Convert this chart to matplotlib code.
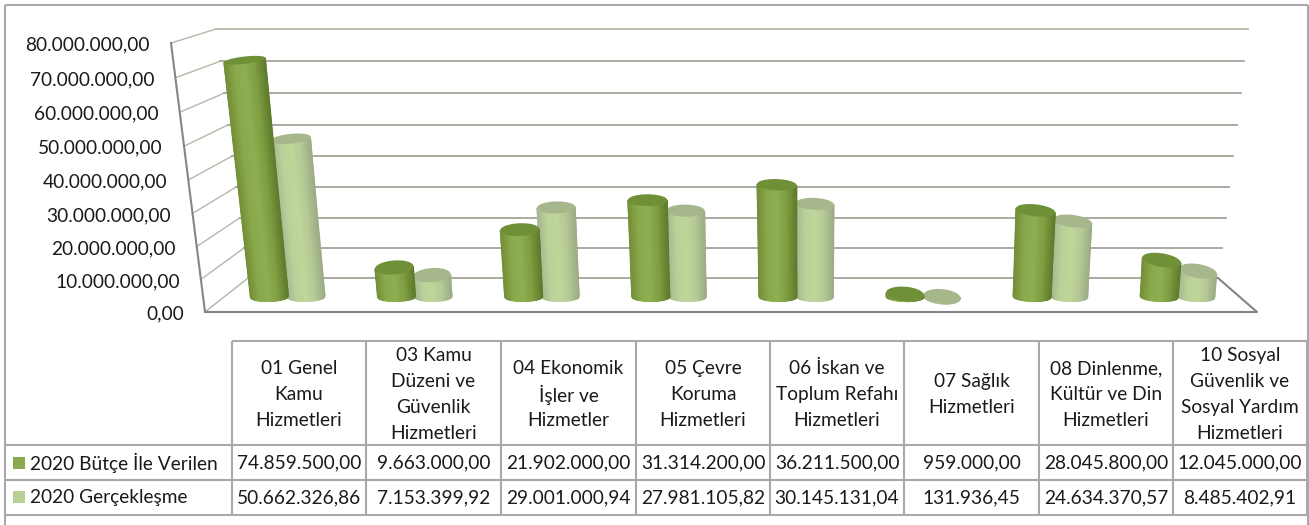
import numpy as np
import matplotlib
matplotlib.use("Agg")
import matplotlib.pyplot as plt
from matplotlib.colors import LinearSegmentedColormap
from matplotlib.patches import Polygon

plt.rcParams['font.family'] = ['Lato', 'DejaVu Sans']

categories = ["01 Genel\nKamu\nHizmetleri", "03 Kamu\nDüzeni ve\nGüvenlik\nHizmetleri",
              "04 Ekonomik\nİşler ve\nHizmetler", "05 Çevre\nKoruma\nHizmetleri",
              "06 İskan ve\nToplum Refahı\nHizmetleri", "07 Sağlık\nHizmetleri",
              "08 Dinlenme,\nKültür ve Din\nHizmetleri", "10 Sosyal\nGüvenlik ve\nSosyal Yardım\nHizmetleri"]
series_names = ["2020 Bütçe İle Verilen", "2020 Gerçekleşme"]
butce = [74859500.00, 9663000.00, 21902000.00, 31314200.00, 36211500.00, 959000.00, 28045800.00, 12045000.00]
gerceklesme = [50662326.86, 7153399.92, 29001000.94, 27981105.82, 30145131.04, 131936.45, 24634370.57, 8485402.91]
ticks = [0, 10e6, 20e6, 30e6, 40e6, 50e6, 60e6, 70e6, 80e6]

W, H = 1309, 525
fig = plt.figure(figsize=(W / 100, H / 100), dpi=100, facecolor="white")
ax = fig.add_axes([0, 0, 1, 1])
ax.set_xlim(0, W)
ax.set_ylim(H, 0)
ax.axis("off")

FS = 13.75
GRID = "#a3a598"
AXIS = "#858585"
BORDER = "#a9a9ab"


def tr(v):
    return f"{v:,.2f}".replace(",", "#").replace(".", ",").replace("#", ".")


def rise(v, slope):
    m = v / 1e7
    return slope * m + 0.165 * m * m


def front_y(v):
    return 312 - rise(v, 32.3)


def back_y(v):
    return 278 - rise(v, 29.8)


def mid_y(v):
    return 297 - rise(v, 30.4)


# walls and floor
for v in ticks:
    m = v / ticks[-1]
    fx, bx = 205 - 34 * m, 248 - 32 * m
    rx = 1218 + 30 * m
    ax.plot([fx, bx], [front_y(v), back_y(v)], color="#b5b7a8", lw=1.0, zorder=1)
    ax.plot([bx, rx], [back_y(v), back_y(v)], color=GRID if v < ticks[-1] else "#b5b7a8", lw=1.3, zorder=1)
ax.plot([205, 171], [front_y(0), front_y(ticks[-1])], color=AXIS, lw=1.5, zorder=2)
ax.plot([205, 1257, 1218], [front_y(0), front_y(0), back_y(0)], color=AXIS, lw=1.5, zorder=2)

for v in ticks:
    m = v / ticks[-1]
    ax.text(184 - 34 * m, front_y(v) + 2, tr(v), ha="right", va="center", fontsize=FS, color="#1a1a1a")

dark_side = LinearSegmentedColormap.from_list("d", ["#738f38", "#8aa94b", "#90af52", "#7f9d41", "#5f7c2c"])
light_side = LinearSegmentedColormap.from_list("l", ["#a9b596", "#bbd197", "#c0d79c", "#b5ca94", "#9dac87"])
dark_cap, light_cap = "#6f9037", "#a7b78c"


def cylinder(xb, v, w0, cmap, cap, z):
    k = (xb - 824) * 0.0006 * v / 1e6
    scale = 1 + 0.0012 * v / 1e6
    xt, wt = xb + k, w0 * scale
    yt, yb = mid_y(v), 297.0
    ht = 7 + (yt - 50) * 0.032
    tilt_t = (xt - 650) * 0.00027
    tilt_b = (xb - 650) * 0.00008
    u = np.linspace(-1, 1, 41)
    arc = np.sqrt(1 - u ** 2)
    xs = np.vstack([xb + u * w0 / 2, xt + u * wt / 2])
    ys = np.vstack([yb + u * w0 / 2 * tilt_b + arc * 4.5, yt + u * wt / 2 * tilt_t + arc * ht / 2])
    ax.pcolormesh(xs, ys, np.vstack([u, u]), cmap=cmap, vmin=-1, vmax=1, shading="gouraud", zorder=z)
    th = np.linspace(0, 2 * np.pi, 80)
    cx = xt + np.cos(th) * wt / 2
    cy = yt + np.cos(th) * wt / 2 * tilt_t + np.sin(th) * ht / 2
    ax.add_patch(Polygon(np.column_stack([cx, cy]), closed=True, fc=cap, ec="none", zorder=z + 0.1))


for i in range(len(categories)):
    centre = 288 + 127.1 * i
    cylinder(centre + 18.5, gerceklesme[i], 37, light_side, light_cap, 3 + i * 2)
    cylinder(centre - 18.5, butce[i], 38, dark_side, dark_cap, 4 + i * 2)

# outer frame and data table
cols = [231.5, 366, 501, 636, 770, 904, 1039, 1173, 1307]
rows = [341, 445, 480, 515]
bk = dict(color=BORDER, lw=1.5, zorder=20, solid_capstyle="butt")
ax.plot([5, 5], [5, H], **bk)
ax.plot([5, 1307.5], [5, 5], **bk)
ax.plot([1307.5, 1307.5], [5, H], **bk)
ax.plot([cols[0], cols[-1]], [rows[0], rows[0]], **bk)
for r in rows[1:]:
    ax.plot([5, cols[-1]], [r, r], **bk)
for c in cols:
    ax.plot([c, c], [rows[0], rows[-1]], **bk)

PITCH = 26
for i, cat in enumerate(categories):
    xc = (cols[i] + cols[i + 1]) / 2
    lines = cat.split("\n")
    for j, line in enumerate(lines):
        yc = (rows[0] + rows[1]) / 2 + (j - (len(lines) - 1) / 2) * PITCH
        ax.text(xc, yc, line, ha="center", va="center_baseline", fontsize=FS, color="#1a1a1a", zorder=21)
    ax.text(xc, 463, tr(butce[i]), ha="center", va="center", fontsize=FS, color="#1a1a1a", zorder=21)
    ax.text(xc, 498, tr(gerceklesme[i]), ha="center", va="center", fontsize=FS, color="#1a1a1a", zorder=21)

for name, col, y in zip(series_names, ["#8aa850", "#b8cf96"], [463, 497]):
    ax.add_patch(plt.Rectangle((13, y - 6), 12, 12, fc=col, ec="none", zorder=21))
    ax.text(30, y, name, ha="left", va="center", fontsize=FS, color="#1a1a1a", zorder=21)

fig.savefig("out.png", dpi=100)
